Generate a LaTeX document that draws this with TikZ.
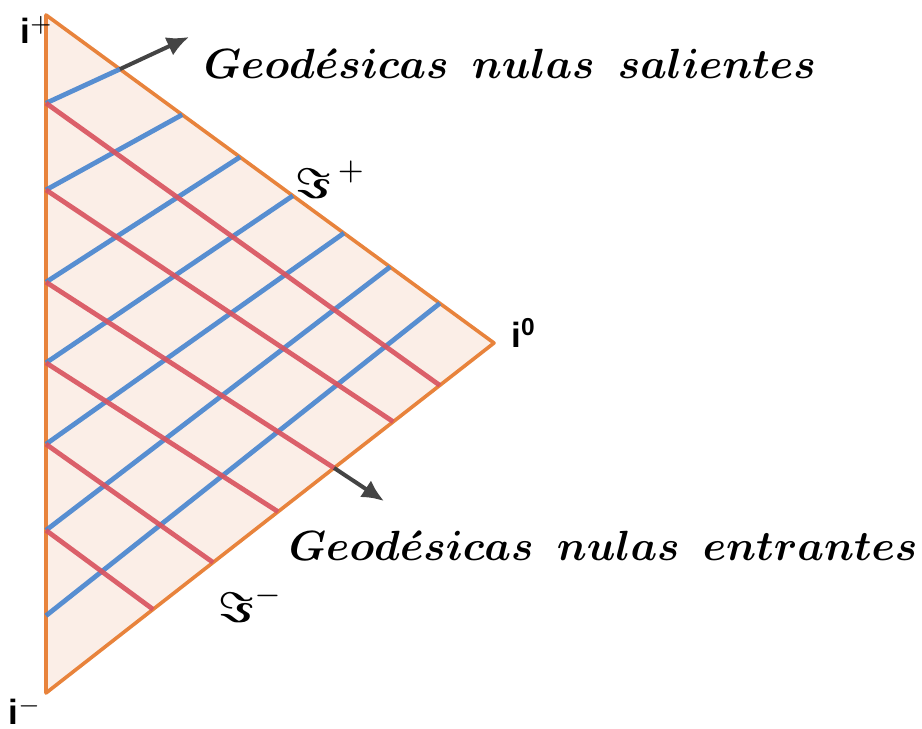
\documentclass[tikz,border=0pt]{standalone}
\usepackage{amsmath}
\usepackage{fontspec}
\setsansfont{Liberation Sans}
\usetikzlibrary{
  arrows.meta,
  calc
}
\definecolor{EdgeOrange}{RGB}{232,131,60}
\definecolor{SoftOrange}{RGB}{251,238,231}
\definecolor{OutBlue}{RGB}{74,134,208}
\definecolor{InRed}{RGB}{217,84,96}
\definecolor{ArrowGray}{RGB}{68,68,68}
\tikzset{
  boundary/.style={draw=EdgeOrange,fill=SoftOrange,line width=1.8pt,line join=round},
  outray/.style={draw=OutBlue,line width=2.4pt,opacity=0.92},
  inray/.style={draw=InRed,line width=2.4pt,opacity=0.92},
  flowarrow/.style={-{Latex[length=11pt,width=10pt]},line width=2pt,draw=ArrowGray},
  vertexlabel/.style={font=\sffamily\bfseries,scale=1.75,inner sep=0pt},
  scrilabel/.style={scale=2.15,inner sep=0pt},
  geolabel/.style={scale=2.11,inner sep=0pt,anchor=base west}
}

\begin{document}
\begin{tikzpicture}[x=0.5pt,y=-0.5pt]
\useasboundingbox (0,0) rectangle (922,729);
\coordinate (ip) at (46,15);
\coordinate (iz) at (494,343);
\coordinate (im) at (46,693);
\draw[boundary] (ip) -- (iz) -- (im) -- cycle;

% outgoing rays: left edge -> scri+
\foreach \a/\b in {0.130/0.165,0.258/0.304,0.394/0.433,0.513/0.551,0.633/0.665,0.760/0.768,0.886/0.879}
  \draw[outray] ($(ip)!\a!(im)$) -- ($(ip)!\b!(iz)$);
% incoming rays: left edge -> scri-
\foreach \a/\b in {0.130/0.879,0.258/0.775,0.394/0.643,0.513/0.518,0.633/0.373,0.760/0.239}
  \draw[inray] ($(ip)!\a!(im)$) -- ($(im)!\b!(iz)$);

\coordinate (out1) at ($(ip)!0.165!(iz)$);
\coordinate (outtip) at (189,37);
\coordinate (in3) at ($(im)!0.643!(iz)$);
\coordinate (intip) at (384,501);
\draw[flowarrow] (out1) -- (outtip);
\draw[flowarrow] (in3) -- (intip);

\node[vertexlabel] (lip) at (37,30) {i$^{+}$};
\node[vertexlabel] (liz) at (524,333) {i\textsuperscript{0}};
\node[vertexlabel] (lim) at (25,711) {i$^{-}$};
\node[scrilabel] (scriplus) at (331,180) {$\boldsymbol{\Im}^{\,+}$};
\node[scrilabel] (scriminus) at (251,604) {$\boldsymbol{\Im}^{-}$};

\node[geolabel] (salientes) at (203,78)
  {$\boldsymbol{Geod\acute{e}sicas\hspace{0.55em}nulas\hspace{0.55em}salientes}$};
\node[geolabel] (entrantes) at (288,560)
  {$\boldsymbol{Geod\acute{e}sicas\hspace{0.55em}nulas\hspace{0.55em}entrantes}$};
\end{tikzpicture}
\end{document}
